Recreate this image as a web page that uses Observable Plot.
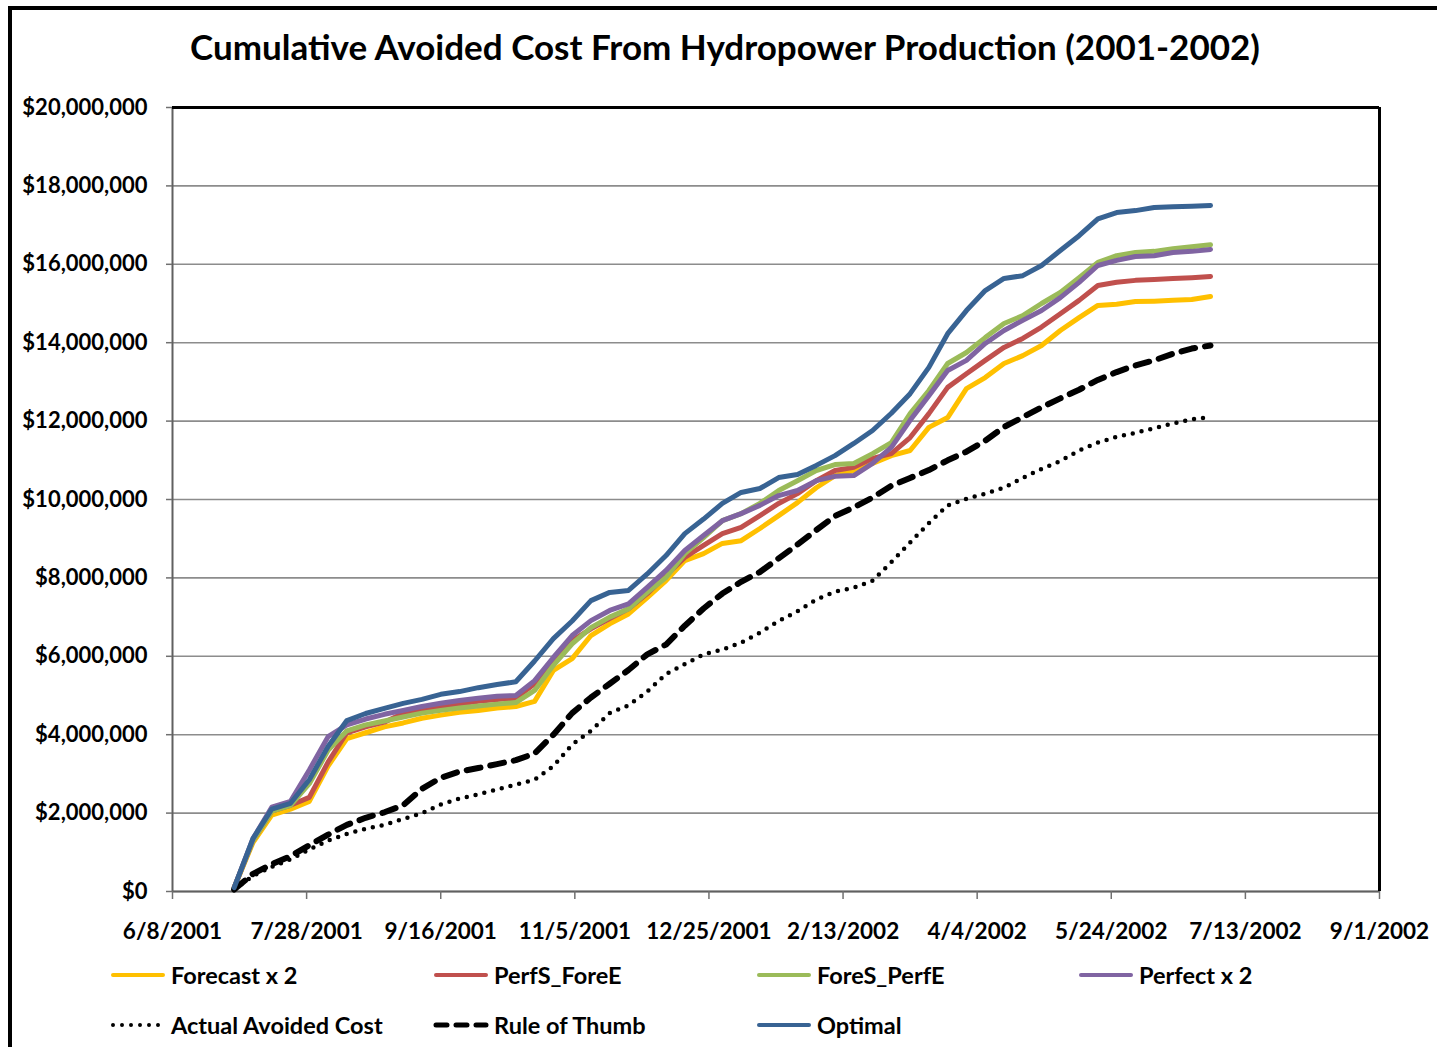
<!DOCTYPE html>
<html>
<head>
<meta charset="utf-8">
<script src="https://cdn.jsdelivr.net/npm/d3@7"></script>
<script src="https://cdn.jsdelivr.net/npm/@observablehq/plot@0.6"></script>
<style>
  html, body { margin: 0; padding: 0; background: #fff; overflow: hidden; }
  #page { position: relative; width: 1437px; height: 1047px; overflow: hidden; font-family: Lato, "Open Sans", sans-serif; font-weight: bold; color: #000; }
  #frame { position: absolute; left: 8px; top: 6px; width: 1600px; height: 1200px; border-left: 4px solid #000; border-top: 4px solid #000; box-sizing: border-box; }
  #title { position: absolute; left: 0; top: 25px; width: 1450px; text-align: center; font-size: 35px; line-height: 42px; }
  #chart { position: absolute; left: 0; top: 0; }
  .leg { position: absolute; display: flex; align-items: center; font-size: 23.5px; white-space: nowrap; }
  .leg svg { margin-right: 5px; }
</style>
</head>
<body>
<div id="page">
  <div id="frame"></div>
  <div id="title">Cumulative Avoided Cost From Hydropower Production (2001-2002)</div>
  <div id="chart"></div>
  <div id="legend"></div>
</div>
<script>
// ---- Data (values in $ millions, read weekly from 7/1/2001 to 6/30/2002) ----
const seriesNames = ["Forecast x 2", "PerfS_ForeE", "ForeS_PerfE", "Perfect x 2", "Actual Avoided Cost", "Rule of Thumb", "Optimal"];
const seriesColors = ["#FFC000", "#C0504D", "#9BBB59", "#8064A2", "#000000", "#000000", "#386393"];
const startDate = "2001-07-01";
const weekCount = 53;

const forecastX2 = [0.1,1.25,1.95,2.1,2.3,3.2,3.9,4.05,4.2,4.3,4.42,4.5,4.57,4.62,4.68,4.72,4.85,5.64,5.94,6.53,6.83,7.08,7.5,7.93,8.44,8.62,8.88,8.95,9.26,9.59,9.92,10.3,10.61,10.74,10.92,11.12,11.25,11.84,12.09,12.83,13.11,13.47,13.67,13.93,14.31,14.64,14.95,14.98,15.05,15.06,15.08,15.1,15.18];
const perfSForeE = [0.1,1.3,2.05,2.2,2.4,3.3,4.05,4.2,4.32,4.55,4.65,4.72,4.78,4.85,4.9,4.93,5.3,5.89,6.4,6.7,6.96,7.21,7.6,8.06,8.52,8.83,9.13,9.29,9.59,9.9,10.15,10.48,10.74,10.82,11.05,11.17,11.58,12.19,12.86,13.21,13.55,13.88,14.11,14.4,14.74,15.08,15.46,15.54,15.59,15.61,15.64,15.66,15.69];
const foreSPerfE = [0.1,1.3,2.05,2.2,2.75,3.6,4.1,4.25,4.35,4.45,4.55,4.62,4.68,4.73,4.78,4.82,5.13,5.77,6.32,6.73,7.0,7.21,7.63,8.01,8.62,9.03,9.46,9.64,9.9,10.23,10.48,10.74,10.89,10.92,11.17,11.45,12.19,12.78,13.47,13.75,14.13,14.49,14.69,15.0,15.28,15.66,16.05,16.22,16.3,16.33,16.4,16.45,16.5];
const perfectX2 = [0.1,1.35,2.15,2.3,3.1,3.95,4.25,4.4,4.52,4.62,4.72,4.8,4.87,4.93,4.98,5.0,5.38,5.97,6.53,6.91,7.17,7.34,7.76,8.19,8.7,9.08,9.46,9.64,9.85,10.1,10.23,10.48,10.59,10.61,10.92,11.33,12.02,12.65,13.29,13.55,13.98,14.31,14.57,14.82,15.15,15.54,15.97,16.1,16.2,16.22,16.3,16.33,16.38];
const actualAvoided = [0.05,0.4,0.63,0.82,1.07,1.3,1.47,1.6,1.7,1.85,2.0,2.22,2.37,2.48,2.6,2.73,2.85,3.2,3.75,4.1,4.55,4.75,5.1,5.55,5.8,6.05,6.17,6.35,6.6,6.9,7.15,7.45,7.65,7.75,7.93,8.4,8.9,9.4,9.85,10.02,10.15,10.3,10.55,10.78,10.98,11.25,11.45,11.6,11.7,11.82,11.94,12.05,12.1];
const ruleOfThumb = [0.05,0.45,0.7,0.9,1.18,1.45,1.7,1.88,2.02,2.2,2.62,2.9,3.06,3.15,3.25,3.35,3.52,4.0,4.55,4.95,5.3,5.65,6.05,6.3,6.78,7.22,7.6,7.9,8.15,8.5,8.85,9.22,9.58,9.8,10.05,10.35,10.55,10.75,11.0,11.22,11.5,11.85,12.1,12.35,12.58,12.8,13.05,13.25,13.42,13.55,13.72,13.85,13.93];
const optimal = [0.1,1.35,2.1,2.25,2.85,3.7,4.36,4.54,4.67,4.8,4.9,5.03,5.1,5.2,5.28,5.35,5.88,6.45,6.9,7.42,7.63,7.68,8.1,8.57,9.13,9.5,9.9,10.18,10.28,10.56,10.64,10.87,11.12,11.43,11.76,12.2,12.7,13.37,14.23,14.82,15.33,15.64,15.71,15.97,16.35,16.73,17.16,17.32,17.37,17.45,17.47,17.48,17.5];

const xTickLabels = ["6/8/2001","7/28/2001","9/16/2001","11/5/2001","12/25/2001","2/13/2002","4/4/2002","5/24/2002","7/13/2002","9/1/2002"];
const yTickValues = [0, 2e6, 4e6, 6e6, 8e6, 10e6, 12e6, 14e6, 16e6, 18e6, 20e6];

// ---- Build table ----
const parseMDY = s => { const [m, d, y] = s.split("/").map(Number); return new Date(Date.UTC(y, m - 1, d)); };
const xTicks = xTickLabels.map(parseMDY);
const start = new Date(startDate + "T00:00:00Z");
const dates = d3.range(weekCount).map(i => d3.utcDay.offset(start, 7 * i));
const allSeries = [forecastX2, perfSForeE, foreSPerfE, perfectX2, actualAvoided, ruleOfThumb, optimal];
const rows = allSeries.map((vals, k) => vals.map((v, i) => ({series: seriesNames[k], date: dates[i], value: v * 1e6})));

const fmtDate = d => `${d.getUTCMonth() + 1}/${d.getUTCDate()}/${d.getUTCFullYear()}`;
const fmtMoney = v => "$" + d3.format(",")(v);

const solid = (k) => Plot.line(rows[k], {x: "date", y: "value", stroke: seriesColors[k], strokeWidth: 5, strokeLinejoin: "round", strokeLinecap: "round", curve: "linear"});

const chart = Plot.plot({
  width: 1437,
  height: 960,
  marginLeft: 172,
  marginRight: 58,
  marginTop: 107,
  marginBottom: 69,
  style: {fontFamily: "Lato, 'Open Sans', sans-serif", fontSize: "22px", fontWeight: "bold", color: "#000", background: "transparent", overflow: "visible"},
  x: {type: "utc", domain: [xTicks[0], xTicks[xTicks.length - 1]]},
  y: {domain: [0, 20e6]},
  marks: [
    Plot.gridY(yTickValues, {stroke: "#8c8c8c", strokeOpacity: 1, strokeWidth: 1.6}),
    Plot.ruleX([xTicks[0]], {stroke: "#606060", strokeWidth: 2}),
    Plot.ruleY([0], {stroke: "#606060", strokeWidth: 2}),
    solid(0), solid(1), solid(2), solid(3),
    Plot.line(rows[4], {x: "date", y: "value", stroke: "#000", strokeWidth: 4.5, strokeDasharray: "0 9", strokeLinecap: "round"}),
    Plot.line(rows[5], {x: "date", y: "value", stroke: "#000", strokeWidth: 6, strokeDasharray: "14 10", strokeLinecap: "round", strokeLinejoin: "round"}),
    solid(6),
    Plot.ruleY([20e6], {stroke: "#000", strokeWidth: 3}),
    Plot.ruleX([xTicks[xTicks.length - 1]], {stroke: "#000", strokeWidth: 3}),
    Plot.axisX(xTicks, {tickFormat: fmtDate, tickSize: 8, tickPadding: 24, stroke: "#707070", strokeWidth: 1.5, fill: "#000", label: null, fontWeight: "bold", fontSize: 22.5}),
    Plot.axisY(yTickValues, {tickFormat: fmtMoney, tickSize: 6, tickPadding: 19, stroke: "#707070", strokeWidth: 1.5, fill: "#000", label: null, fontWeight: "bold", fontSize: 22})
  ]
});
document.getElementById("chart").appendChild(chart);

// ---- Legend ----
const legendPos = [
  {x: 110, y: 975}, {x: 433, y: 975}, {x: 756, y: 975}, {x: 1078, y: 975},
  {x: 110, y: 1025}, {x: 433, y: 1025}, {x: 756, y: 1025}
];
const legendDash = [null, null, null, null, "0 9", "11 9", null];
const legendWidth = [4, 4, 4, 4, 4, 5, 4];
const legend = document.getElementById("legend");
seriesNames.forEach((name, k) => {
  const div = document.createElement("div");
  div.className = "leg";
  div.style.left = legendPos[k].x + "px";
  div.style.top = (legendPos[k].y - 16) + "px";
  div.style.height = "32px";
  const dash = legendDash[k] ? `stroke-dasharray="${legendDash[k]}"` : "";
  div.innerHTML = `<svg width="56" height="12"><line x1="3" y1="6" x2="53" y2="6" stroke="${seriesColors[k]}" stroke-width="${legendWidth[k]}" stroke-linecap="round" ${dash}/></svg><span>${name}</span>`;
  legend.appendChild(div);
});
</script>
</body>
</html>
